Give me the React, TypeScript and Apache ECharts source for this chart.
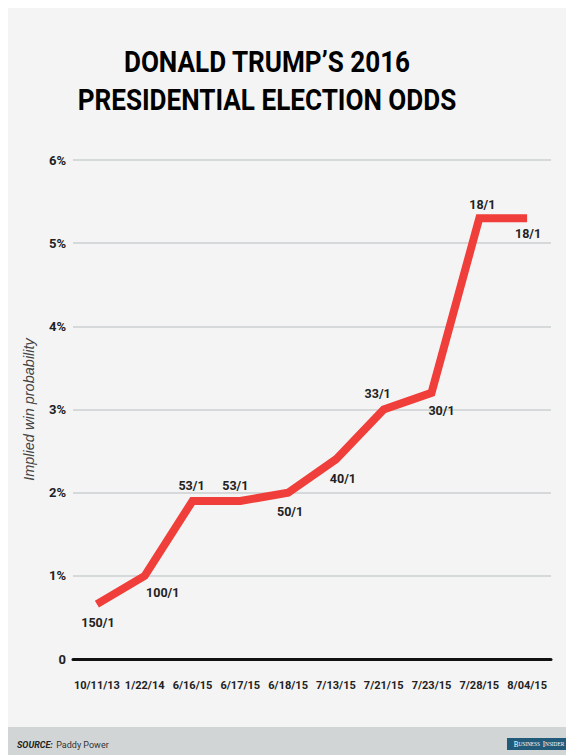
import React, { useEffect, useRef } from "react";
import * as echarts from "echarts";

const dates = ["10/11/13", "1/22/14", "6/16/15", "6/17/15", "6/18/15", "7/13/15", "7/21/15", "7/23/15", "7/28/15", "8/04/15"];
const probability = [0.66, 1.0, 1.9, 1.9, 2.0, 2.4, 3.0, 3.2, 5.3, 5.3];
const odds = ["150/1", "100/1", "53/1", "53/1", "50/1", "40/1", "33/1", "30/1", "18/1", "18/1"];
const yTicks = [0, 1, 2, 3, 4, 5, 6];

const labelOffsets: [number, number][] = [
  [1, 18], [18, 17], [-1, -15], [-5, -15], [2, 19], [7, 19], [-6, -16], [10, 18], [3, -14], [1, 15],
];

const FONT = "Roboto, 'Liberation Sans', sans-serif";

export default function App() {
  const ref = useRef<HTMLDivElement>(null);
  useEffect(() => {
    if (!ref.current) return;
    const chart = echarts.init(ref.current, undefined, { renderer: "svg" });
    const W = 566;
    const H = 747;
    chart.setOption({
      animation: false,
      backgroundColor: "#f4f4f4",
      grid: { left: 65, right: 23, top: 152, bottom: 96, containLabel: false },
      xAxis: {
        type: "category",
        data: dates,
        boundaryGap: true,
        axisLine: { lineStyle: { color: "#111", width: 3 } },
        axisTick: { alignWithLabel: true, length: 10, lineStyle: { color: "#111", width: 2 } },
        axisLabel: { interval: 0, fontFamily: FONT, fontWeight: "bold", fontSize: 11, color: "#222", margin: 21 },
        splitLine: { show: false },
      },
      yAxis: {
        type: "value",
        min: yTicks[0],
        max: yTicks[yTicks.length - 1],
        interval: 1,
        name: "Implied win probability",
        nameLocation: "middle",
        nameGap: 37,
        nameRotate: 90,
        nameTextStyle: { fontFamily: "'Liberation Sans', Arial, sans-serif", fontStyle: "italic", fontSize: 14.5, color: "#444" },
        axisLine: { show: false },
        axisTick: { show: false },
        axisLabel: {
          fontFamily: FONT,
          fontWeight: "bold",
          fontSize: 13,
          color: "#222",
          margin: 7,
          formatter: (v: number) => (v === 0 ? "0" : v + "%"),
        },
        splitLine: { lineStyle: { color: "#d5d9d9", width: 2 } },
      },
      series: [
        {
          type: "line",
          data: probability.map((v, i) => ({
            value: v,
            label: { offset: labelOffsets[i] },
          })),
          symbol: "circle",
          symbolSize: 0.1,
          itemStyle: { color: "#f03e3a" },
          lineStyle: { color: "#f03e3a", width: 8, cap: "butt", join: "miter" },
          label: {
            show: true,
            position: "inside",
            formatter: (p: any) => odds[p.dataIndex],
            fontFamily: FONT,
            fontWeight: "bold",
            fontSize: 12.5,
            color: "#222",
            textBorderWidth: 0,
          },
          z: 5,
        },
      ],
      graphic: [
        {
          type: "text",
          x: 259,
          y: 35,
          scaleX: 0.87,
          style: {
            text: "DONALD TRUMP\u2019S 2016\nPRESIDENTIAL ELECTION ODDS",
            align: "center",
            verticalAlign: "top",
            fontFamily: FONT,
            fontWeight: "bold",
            fontSize: 30,
            lineHeight: 38,
            fill: "#000",
          },
        },
        { type: "rect", left: 0, top: 719, shape: { width: W, height: H - 719 }, style: { fill: "#d1d5d5" } },
        {
          type: "text",
          left: 9,
          top: 731,
          style: {
            text: "{b|SOURCE:} {r|Paddy Power}",
            rich: {
              b: { fontFamily: FONT, fontWeight: "bold", fontStyle: "italic", fontSize: 9, fill: "#222" },
              r: { fontFamily: FONT, fontSize: 9, fill: "#333" },
            },
          },
        },
        { type: "rect", left: 499, top: 730, shape: { width: 64, height: 12 }, style: { fill: "#215b79" } },
        {
          type: "text",
          x: 531,
          y: 736,
          scaleX: 0.82,
          style: {
            text: "{a|B}{b|USINESS} {a|I}{b|NSIDER}",
            align: "center",
            verticalAlign: "middle",
            rich: {
              a: { fontFamily: "'Liberation Serif', serif", fontSize: 8.5, fill: "#fff" },
              b: { fontFamily: "'Liberation Serif', serif", fontSize: 6.5, fill: "#fff" },
            },
          },
        },
      ],
    });
    return () => chart.dispose();
  }, []);
  return <div ref={ref} style={{ width: 566, height: 747 }} />;
}
